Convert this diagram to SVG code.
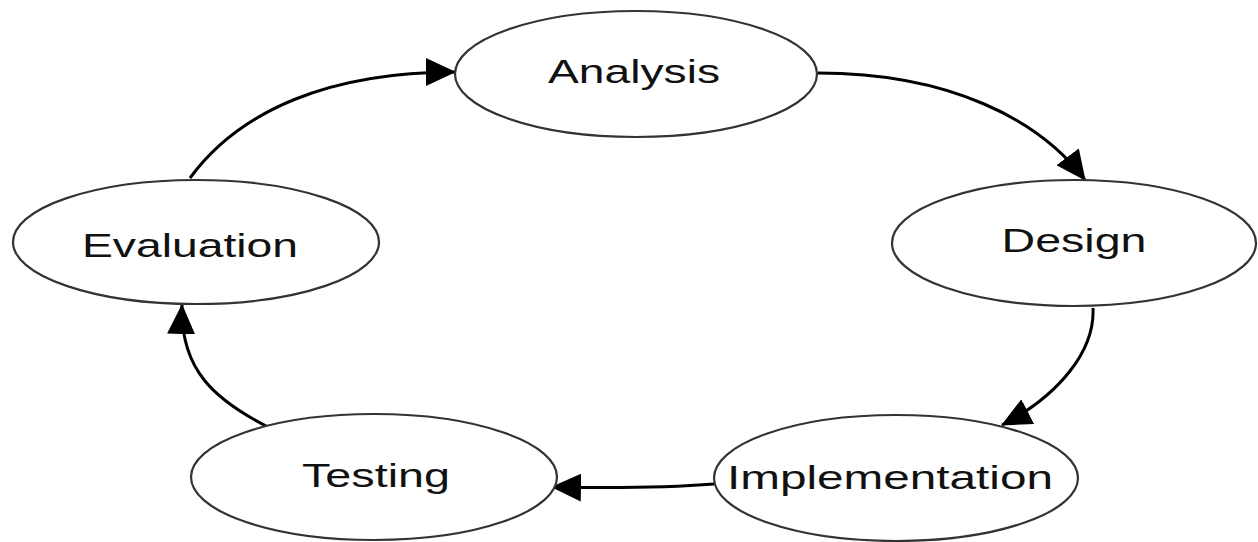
<svg xmlns="http://www.w3.org/2000/svg" width="1258" height="542" viewBox="0 0 1258 542">
<style>
.node ellipse{fill:#fff;stroke:#333;stroke-width:2.2}
.node text{font-family:"Liberation Sans",Arial,sans-serif;font-size:33px;fill:#111;text-anchor:middle}
.edge{fill:none;stroke:#000;stroke-width:3}
</style>
<defs>
<marker id="ah" viewBox="0 0 30 28" markerWidth="30" markerHeight="28" refX="29" refY="14" orient="auto" markerUnits="userSpaceOnUse">
<path d="M0,0 L30,14 L0,28 z" fill="#000"/>
</marker>
</defs>
<rect width="1258" height="542" fill="#fff"/>
<g id="connectors">
<path class="edge" marker-end="url(#ah)" d="M818,73 C950,73 1040,120 1085,180"/>
<path class="edge" marker-end="url(#ah)" d="M1093,308 C1095,350 1060,395 1002,425"/>
<path class="edge" marker-end="url(#ah)" d="M714,484 Q650,489 552,487"/>
<path class="edge" marker-end="url(#ah)" d="M268,427 C215,400 180,370 182,305"/>
<path class="edge" marker-end="url(#ah)" d="M190,178 C240,110 330,72 455,72"/>
</g>
<g id="analysis" class="node">
<ellipse cx="636" cy="74" rx="181" ry="63"/>
<text x="634" y="83" textLength="172" lengthAdjust="spacingAndGlyphs">Analysis</text>
</g>
<g id="design" class="node">
<ellipse cx="1074" cy="243" rx="182" ry="63"/>
<text x="1074" y="252" textLength="145" lengthAdjust="spacingAndGlyphs">Design</text>
</g>
<g id="implementation" class="node">
<ellipse cx="896" cy="478" rx="182" ry="63"/>
<text x="890" y="489" textLength="326" lengthAdjust="spacingAndGlyphs">Implementation</text>
</g>
<g id="testing" class="node">
<ellipse cx="374" cy="477" rx="183" ry="63"/>
<text x="376" y="487" textLength="148" lengthAdjust="spacingAndGlyphs">Testing</text>
</g>
<g id="evaluation" class="node">
<ellipse cx="196" cy="242" rx="183" ry="62"/>
<text x="190" y="257" textLength="216" lengthAdjust="spacingAndGlyphs">Evaluation</text>
</g>
</svg>
